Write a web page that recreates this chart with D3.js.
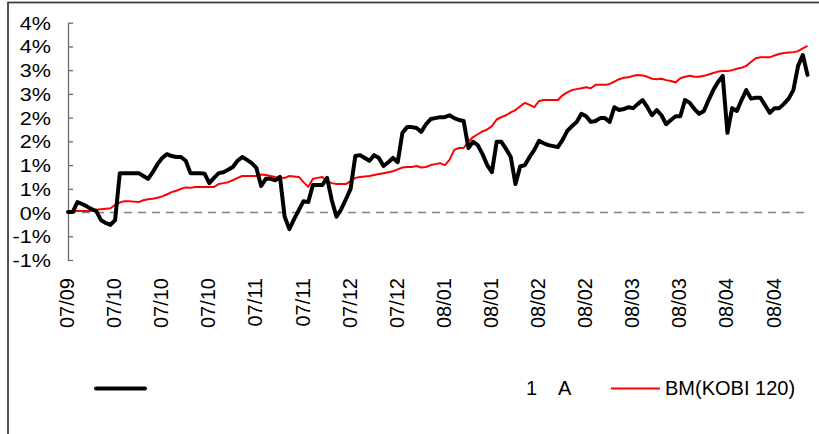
<!DOCTYPE html>
<html>
<head>
<meta charset="utf-8">
<script src="https://cdn.jsdelivr.net/npm/d3@7"></script>
<style>
  html, body { margin: 0; padding: 0; background: #fff; }
  svg { display: block; font-family: Arial, "Liberation Sans", sans-serif; }
</style>
</head>
<body>
<svg id="chart" width="819" height="434"></svg>
<script>
// ---- data ----
const xTickLabels = ["07/09","07/10","07/10","07/10","07/11","07/11","07/12","07/12",
                     "08/01","08/01","08/02","08/02","08/03","08/03","08/04","08/04"];
const xTickEvery = 10;
const yTickValues = [-1, -0.5, 0, 0.5, 1, 1.5, 2, 2.5, 3, 3.5, 4];
const yTickLabels = ["-1%","-1%","0%","1%","1%","2%","2%","3%","3%","4%","4%"];
const fundLabel = "1    A";
const benchLabel = "BM(KOBI 120)";

const fundValues = [
  0.01,0.01,0.22,0.18,0.13,0.07,0.03,-0.16,-0.22,-0.26,
  -0.16,0.83,0.83,0.83,0.83,0.83,0.77,0.71,0.85,1.02,
  1.15,1.23,1.19,1.17,1.17,1.09,0.83,0.83,0.83,0.82,
  0.62,0.73,0.83,0.85,0.90,0.96,1.09,1.17,1.11,1.04,
  0.94,0.56,0.71,0.71,0.68,0.75,-0.09,-0.35,-0.14,0.05,
  0.24,0.22,0.58,0.58,0.58,0.73,0.26,-0.09,0.07,0.28,
  0.50,1.19,1.21,1.15,1.09,1.21,1.15,0.98,1.06,1.15,
  1.06,1.68,1.80,1.80,1.78,1.70,1.86,1.97,1.99,2.01,
  2.01,2.05,1.99,1.95,1.93,1.36,1.49,1.42,1.23,1.00,
  0.85,1.49,1.49,1.34,1.17,0.60,0.97,1.00,1.17,1.32,
  1.51,1.46,1.42,1.40,1.38,1.53,1.72,1.82,1.91,2.08,
  2.03,1.91,1.93,1.99,1.99,1.91,2.22,2.16,2.18,2.22,
  2.20,2.29,2.37,2.22,2.05,2.16,2.05,1.86,1.95,2.03,
  2.03,2.37,2.31,2.18,2.08,2.14,2.37,2.58,2.75,2.88,
  1.68,2.20,2.14,2.37,2.58,2.40,2.42,2.42,2.26,2.10,
  2.20,2.20,2.29,2.40,2.58,3.09,3.32,2.90
];
const benchValues = [
  0.01,0.03,0.03,0.03,0.03,0.04,0.06,0.07,0.08,0.09,
  0.16,0.21,0.24,0.24,0.23,0.22,0.26,0.28,0.29,0.31,
  0.34,0.38,0.43,0.46,0.50,0.53,0.52,0.54,0.54,0.54,
  0.54,0.54,0.60,0.62,0.64,0.68,0.73,0.77,0.77,0.77,
  0.77,0.80,0.79,0.77,0.75,0.74,0.73,0.77,0.76,0.75,
  0.64,0.54,0.71,0.73,0.75,0.66,0.62,0.60,0.60,0.60,
  0.66,0.73,0.75,0.76,0.77,0.79,0.81,0.83,0.85,0.87,
  0.91,0.95,0.96,0.96,0.98,0.95,0.96,1.00,1.02,1.04,
  1.00,1.11,1.32,1.36,1.36,1.49,1.59,1.65,1.71,1.75,
  1.82,1.96,2.01,2.05,2.11,2.16,2.24,2.31,2.27,2.22,
  2.35,2.37,2.37,2.37,2.37,2.47,2.53,2.58,2.60,2.62,
  2.64,2.62,2.69,2.69,2.69,2.71,2.76,2.81,2.84,2.85,
  2.88,2.90,2.89,2.86,2.82,2.81,2.82,2.79,2.77,2.74,
  2.83,2.86,2.88,2.86,2.86,2.88,2.91,2.94,2.97,2.98,
  2.98,3.00,3.03,3.05,3.09,3.17,3.25,3.27,3.27,3.27,
  3.31,3.34,3.36,3.37,3.38,3.40,3.46,3.51
];

// ---- drawing ----
const svg = d3.select("#chart");
const n = fundValues.length;

// outer frame (extends past the right and bottom edges)
svg.append("rect")
  .attr("x", 8).attr("y", 2.5).attr("width", 900).attr("height", 900)
  .attr("fill", "none").attr("stroke", "#404040").attr("stroke-width", 1.8);

const x = d3.scaleLinear().domain([0, n - 1]).range([68, 807.5]);
const y = d3.scaleLinear().domain([-1, 4]).range([260, 22.7]);

// y axis
const yAxis = d3.axisLeft(y)
  .tickValues(yTickValues)
  .tickFormat((d, i) => yTickLabels[i])
  .tickSizeInner(-5).tickSizeOuter(0)
  .tickPadding(14.2);
const gy = svg.append("g").attr("transform", "translate(68,0)").call(yAxis);
gy.select(".domain").attr("stroke", "#6a6a6a").attr("stroke-width", 1.3);
gy.selectAll(".tick line").attr("stroke", "#6a6a6a").attr("stroke-width", 1.3);
gy.selectAll(".tick text")
  .attr("font-size", 18).attr("fill", "#000")
  .attr("font-family", "Arial, 'Liberation Sans', sans-serif")
  .attr("dy", "0.36em")
  .attr("transform", "scale(1.2,1)");

// zero line (dashed)
svg.append("line")
  .attr("x1", x(0)).attr("x2", x(n - 1))
  .attr("y1", y(0)).attr("y2", y(0))
  .attr("stroke", "#808080").attr("stroke-width", 1.6)
  .attr("stroke-dasharray", "8,6");

// x labels (rotated)
const xTicks = xTickLabels.map((lab, i) => ({ idx: i * xTickEvery, lab }));
svg.append("g").selectAll("text").data(xTicks).join("text")
  .attr("transform", d => `translate(${x(d.idx) + 6},278) rotate(-90)`)
  .attr("text-anchor", "end")
  .attr("font-size", 20)
  .attr("fill", "#000")
  .text(d => d.lab);

// lines
const line = d3.line().x((d, i) => x(i)).y(d => y(d));
svg.append("path").datum(benchValues)
  .attr("d", line).attr("fill", "none")
  .attr("stroke", "#ff0000").attr("stroke-width", 2)
  .attr("stroke-linejoin", "round");
svg.append("path").datum(fundValues)
  .attr("d", line).attr("fill", "none")
  .attr("stroke", "#000").attr("stroke-width", 4)
  .attr("stroke-linejoin", "round").attr("stroke-linecap", "round");

// legend
const lg = svg.append("g");
lg.append("line").attr("x1", 96).attr("x2", 145).attr("y1", 388.5).attr("y2", 388.5)
  .attr("stroke", "#000").attr("stroke-width", 4).attr("stroke-linecap", "round");
const parts = fundLabel.split(/\s+/);
lg.append("text").attr("y", 395).attr("font-size", 20).attr("fill", "#000")
  .selectAll("tspan").data(parts).join("tspan")
  .attr("x", (d, i) => i === 0 ? 526 : 558)
  .text(d => d);
lg.append("line").attr("x1", 611).attr("x2", 660).attr("y1", 388.5).attr("y2", 388.5)
  .attr("stroke", "#ff0000").attr("stroke-width", 2);
lg.append("text").attr("x", 665).attr("y", 395).attr("font-size", 20)
  .attr("fill", "#000").text(benchLabel);
</script>
</body>
</html>
